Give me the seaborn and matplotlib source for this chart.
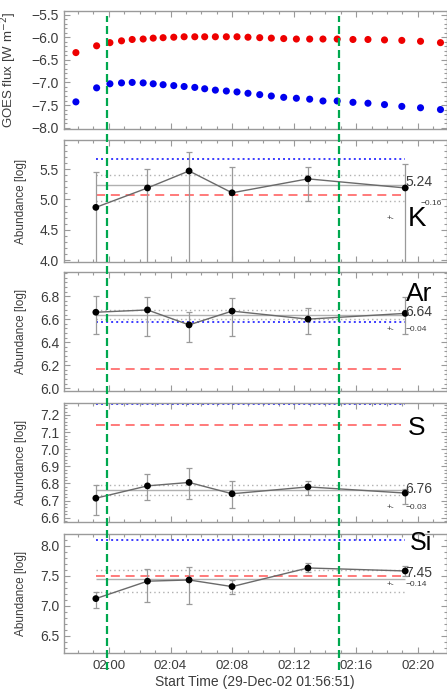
import numpy as np
import pandas as pd
import matplotlib
matplotlib.use("Agg")
import matplotlib.pyplot as plt
import seaborn as sns
from matplotlib.lines import Line2D
from matplotlib.transforms import blended_transform_factory
from matplotlib.ticker import MultipleLocator, AutoMinorLocator, FixedLocator

# ---------------- data ----------------
# time axis in minutes after 02:00 (29-Dec-02)
goes_t = [-2.12, -0.78, 0.08, 0.83, 1.52, 2.23, 2.88, 3.52, 4.21, 4.88, 5.57, 6.21,
          6.90, 7.61, 8.30, 9.01, 9.77, 10.52, 11.32, 12.14, 13.00, 13.86, 14.78,
          15.80, 16.77, 17.84, 18.96, 20.17, 21.46]
goes_long = [-6.34, -6.19, -6.12, -6.08, -6.05, -6.04, -6.02, -6.01, -6.00, -5.99,
             -5.99, -5.99, -5.99, -5.99, -5.99, -6.00, -6.01, -6.02, -6.03, -6.04,
             -6.04, -6.04, -6.04, -6.05, -6.05, -6.06, -6.07, -6.09, -6.12]
goes_short = [-7.43, -7.12, -7.03, -7.01, -7.00, -7.01, -7.03, -7.05, -7.07, -7.09,
              -7.11, -7.14, -7.17, -7.19, -7.21, -7.24, -7.27, -7.30, -7.33, -7.35,
              -7.37, -7.41, -7.41, -7.44, -7.46, -7.49, -7.53, -7.56, -7.60]

abund_t = [-0.83, 2.51, 5.20, 7.98, 12.89, 19.18]

elements = ["K", "Ar", "S", "Si"]
k_val = [4.87, 5.19, 5.47, 5.11, 5.34, 5.19]
k_hi = [5.46, 5.51, 5.78, 5.53, 5.53, 5.58]
k_lo = [3.50, 3.50, 3.50, 3.50, 4.98, 3.50]
ar_val = [6.66, 6.68, 6.55, 6.67, 6.60, 6.65]
ar_hi = [6.80, 6.79, 6.66, 6.78, 6.70, 6.79]
ar_lo = [6.47, 6.45, 6.40, 6.45, 6.47, 6.47]
s_val = [6.714, 6.786, 6.806, 6.740, 6.780, 6.744]
s_hi = [6.794, 6.854, 6.890, 6.816, 6.814, 6.770]
s_lo = [6.616, 6.704, 6.710, 6.654, 6.730, 6.680]
si_val = [7.12, 7.41, 7.43, 7.32, 7.63, 7.58]
si_hi = [7.23, 7.61, 7.64, 7.43, 7.71, 7.66]
si_lo = [6.96, 7.06, 7.03, 7.19, 7.57, 7.50]

mean_vals = [5.24, 6.64, 6.76, 7.45]
sd_hi = [5.41, 6.68, 6.79, 7.60]
sd_lo = [4.97, 6.60, 6.73, 7.23]
photo_vals = [5.67, 6.575, 7.265, 8.10]      # blue dotted
coronal_vals = [5.07, 6.17, 7.14, 7.50]      # red dashed
mean_labels = ["5.24", "6.64", "6.76", "7.45"]
err_pm = "+-"
err_labels = ["\u22120.16", "\u22120.04", "\u22120.03", "\u22120.14"]

ylims = [(3.97, 5.98), (5.975, 7.01), (6.575, 7.27), (6.215, 8.195)]
yticks = [[4.0, 4.5, 5.0, 5.5], [6.0, 6.2, 6.4, 6.6, 6.8],
          [6.6, 6.7, 6.8, 6.9, 7.0, 7.1, 7.2], [6.5, 7.0, 7.5, 8.0]]
goes_ticks = [-8.0, -7.5, -7.0, -6.5, -6.0, -5.5]

xtick_pos = [0, 4, 8, 12, 16, 20]
xtick_labels = ["02:00", "02:04", "02:08", "02:12", "02:16", "02:20"]
green_t = [-0.09, 14.87]

# ---------------- style ----------------
sns.set_style("ticks")
plt.rcParams["font.family"] = ["Liberation Sans", "DejaVu Sans"]
plt.rcParams["axes.unicode_minus"] = True

W, H = 447, 691
fig = plt.figure(figsize=(W / 100, H / 100), dpi=100)

left = 64 / W
width = (446.5 - 64) / W
rows = [(11, 129), (140, 262), (272, 391), (403, 522), (534, 653)]
axes = []
for top, bot in rows:
    ax = fig.add_axes([left, 1 - bot / H, width, (bot - top) / H])
    axes.append(ax)

xlim = (-2.89, 21.85)
spine_col = "#9a9a9a"
lab_col = "#3c3c3c"

def style_axis(ax):
    ax.set_xlim(*xlim)
    for s in ax.spines.values():
        s.set_color(spine_col)
        s.set_linewidth(1.0)
        s.set_visible(True)
    ax.tick_params(which="both", direction="in", top=True, right=True,
                   color=spine_col, labelcolor=lab_col, width=0.8)
    ax.tick_params(which="major", length=4, labelsize=10)
    ax.tick_params(which="minor", length=2)
    ax.xaxis.set_major_locator(FixedLocator(xtick_pos))
    ax.xaxis.set_minor_locator(MultipleLocator(1))
    ax.yaxis.set_minor_locator(AutoMinorLocator(5))

# ---- GOES panel ----
ax0 = axes[0]
goes_df = pd.DataFrame({"t": goes_t * 2,
                        "flux": goes_long + goes_short,
                        "band": ["long"] * len(goes_t) + ["short"] * len(goes_t)})
sns.scatterplot(data=goes_df, x="t", y="flux", hue="band",
                palette={"long": "#ee0000", "short": "#0000ee"},
                s=26, edgecolor="none", legend=False, ax=ax0)
style_axis(ax0)
ax0.set_ylim(-8.03, -5.42)
ax0.set_yticks(goes_ticks)
ax0.set_yticklabels([f"{v:.1f}".replace("-", "\u2212") for v in goes_ticks])
ax0.set_xticklabels([])
ax0.set_xlabel("")
ax0.set_ylabel("GOES flux [W m$^{-2}$]", fontsize=9.5, color=lab_col)
ax0.yaxis.set_label_coords(-0.118, 0.5)

vals = [k_val, ar_val, s_val, si_val]
his = [k_hi, ar_hi, s_hi, si_hi]
los = [k_lo, ar_lo, s_lo, si_lo]

name_y = [0.352, 0.815, 0.786, 0.924]
name_x = [19.33, 19.24, 19.33, 19.46]
mean_y = [0.656, 0.662, 0.277, 0.675]
pm_y = [0.36, 0.521, 0.118, 0.575]
err_y = [0.48, 0.521, 0.118, 0.575]
err_x = [20.2, 19.2, 19.2, 19.2]
name_size = [20, 19, 19, 18]

for i, el in enumerate(elements):
    ax = axes[i + 1]
    v = np.array(vals[i])
    hi = np.array(his[i])
    lo = np.array(los[i])
    x0, x1 = abund_t[0], abund_t[-1]
    # reference levels
    ax.hlines(photo_vals[i], x0, x1, colors="#3a3aff", linestyles=(0, (1, 1.6)), lw=1.4, zorder=2)
    ax.hlines(coronal_vals[i], x0, x1 - 0.3, colors="#ff7070", linestyles=(0, (5, 3.2)), lw=1.3, zorder=2)
    ax.hlines(mean_vals[i], x0, x1, colors="#b0b0b0", lw=1.0, zorder=1)
    ax.hlines([sd_hi[i], sd_lo[i]], x0, x1, colors="#b0b0b0", linestyles=(0, (1, 2.2)), lw=1.0, zorder=1)
    # error bars
    ax.errorbar(abund_t, v, yerr=[v - lo, hi - v], fmt="none", ecolor="#9a9a9a",
                elinewidth=0.9, capsize=2.5, capthick=0.9, zorder=3)
    df = pd.DataFrame({"t": abund_t, "val": v})
    sns.lineplot(data=df, x="t", y="val", color="#6a6a6a", lw=1.0, ax=ax, zorder=4)
    sns.scatterplot(data=df, x="t", y="val", color="black", s=24, edgecolor="none", ax=ax, zorder=5)
    style_axis(ax)
    ax.set_ylim(*ylims[i])
    ax.set_yticks(yticks[i])
    ax.set_yticklabels([f"{t:.1f}" for t in yticks[i]])
    ax.set_xlabel("")
    ax.set_ylabel("Abundance [log]", fontsize=8.5, color=lab_col)
    ax.yaxis.set_label_coords(-0.097, 0.5)
    if i < 3:
        ax.set_xticklabels([])
    tr = blended_transform_factory(ax.transData, ax.transAxes)
    ax.text(19.2, mean_y[i], mean_labels[i], transform=tr, fontsize=10,
            color=lab_col, ha="left", va="center", zorder=6)
    ax.text(18.0, pm_y[i], err_pm, transform=tr, fontsize=6,
            color=lab_col, ha="left", va="center", zorder=6)
    ax.text(err_x[i], err_y[i], err_labels[i], transform=tr, fontsize=6,
            color=lab_col, ha="left", va="center", zorder=6)
    ax.text(name_x[i], name_y[i], el, transform=tr, fontsize=name_size[i],
            color="black", ha="left", va="center", zorder=7)

axes[-1].set_xticklabels(xtick_labels)
axes[-1].tick_params(axis="x", labelsize=9.5, pad=5)
axes[-1].set_xlabel("Start Time (29-Dec-02 01:56:51)", fontsize=10, color=lab_col, labelpad=2)

# green dashed lines across all panels
gtr = blended_transform_factory(axes[-1].transData, fig.transFigure)
for gx in green_t:
    fig.add_artist(Line2D([gx, gx], [1 - 670 / H, 1 - 16 / H], transform=gtr,
                          color="#00a84f", lw=1.6, ls=(0, (3.6, 1.8)), zorder=10))

fig.savefig("out.png", dpi=100)
